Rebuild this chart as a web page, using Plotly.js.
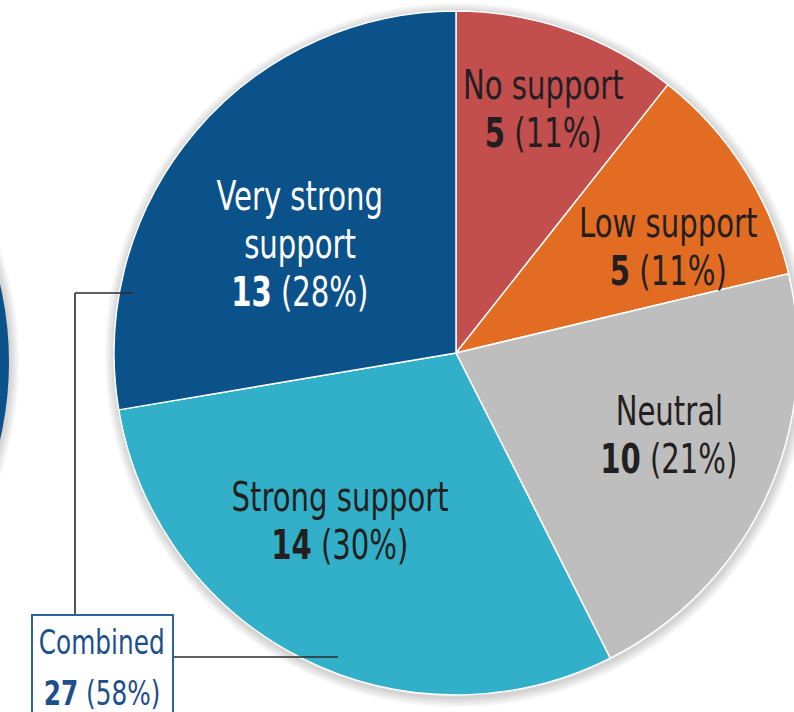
<!DOCTYPE html>
<html>
<head>
<meta charset="utf-8">
<script src="https://cdn.plot.ly/plotly-3.0.1.min.js"></script>
<style>
  html, body { margin: 0; padding: 0; overflow: hidden; background: #ffffff; width: 794px; height: 712px; }
  #chart { position: absolute; left: 0; top: 0; width: 810px; height: 712px; }
  #chart text.annotation-text { transform-box: fill-box; transform-origin: center; transform: scaleX(0.81); }
</style>
</head>
<body>
<div id="chart"></div>
<script>
// ---- data ----
const categories = ['No support', 'Low support', 'Neutral', 'Strong support', 'Very strong support'];
const counts = [5, 5, 10, 14, 13];
const percents = [11, 11, 21, 30, 28];
const labelLines = [['No support'], ['Low support'], ['Neutral'], ['Strong support'], ['Very strong', 'support']];
const combinedLabel = 'Combined';
const combinedCount = 27;
const combinedPercent = 58;

// ---- styles / layout ----
const sliceColors = ['#c24e4e', '#e36c23', '#bfbebf', '#33b0c9', '#0b528a'];
const textColors = ['#231f20', '#231f20', '#231f20', '#231f20', '#ffffff'];
const W = 810, H = 712;
const cx = 456, cy = 353, R = 342;
const px = v => v / W;
const py = v => 1 - v / H;
const FONT = 'DejaVu Sans Condensed, Liberation Sans Narrow, sans-serif';
const FS = 40;
// label anchor points (pixel), x centre and first-line cap centre
const labelPos = [[543, 85], [668, 223], [669, 411], [340, 497], [300, 196]];
const lineGap = 48;

const pie = {
  type: 'pie',
  labels: categories,
  values: counts,
  sort: false,
  direction: 'clockwise',
  rotation: 0,
  textinfo: 'none',
  hoverinfo: 'label+value+percent',
  showlegend: false,
  marker: { colors: sliceColors, line: { color: '#ffffff', width: 1.5 } },
  domain: { x: [px(cx - R), px(cx + R)], y: [py(cy + R), py(cy - R)] }
};

const annotations = [];
categories.forEach((c, i) => {
  const [x0, y0] = labelPos[i];
  const lines = labelLines[i].concat([`<b>${counts[i]}</b> (${percents[i]}%)`]);
  lines.forEach((t, k) => {
    annotations.push({
      xref: 'paper', yref: 'paper', x: px(x0), y: py(y0 + k * lineGap),
      xanchor: 'center', yanchor: 'middle', showarrow: false,
      text: t, font: { family: FONT, size: FS, color: textColors[i] }
    });
  });
});
const comboColor = '#1d4f8c';
annotations.push({
  xref: 'paper', yref: 'paper', x: px(102), y: py(642), xanchor: 'center', yanchor: 'middle',
  showarrow: false, text: combinedLabel, font: { family: FONT, size: 34, color: comboColor }
});
annotations.push({
  xref: 'paper', yref: 'paper', x: px(102), y: py(693), xanchor: 'center', yanchor: 'middle',
  showarrow: false, text: `<b>${combinedCount}</b> (${combinedPercent}%)`,
  font: { family: FONT, size: 34, color: comboColor }
});

function circle(x, y, r, fill, layer) {
  return { type: 'circle', xref: 'paper', yref: 'paper', layer: layer || 'below',
    x0: px(x - r), x1: px(x + r), y0: py(y + r), y1: py(y - r),
    fillcolor: fill, line: { width: 0 } };
}
const shapes = [];
// soft glow around the pies
[10, 8, 6, 4, 2].forEach(d => {
  shapes.push(circle(cx + 1, cy + 2, R + d, 'rgba(0,0,0,0.035)'));
  shapes.push(circle(-333, 362, R + d, 'rgba(0,0,0,0.035)'));
});
// partial neighbouring pie at the left edge
shapes.push(circle(-333, 362, R, '#0b528a'));
// connector lines
const lc = { color: '#2b2b2b', width: 1.6 };
shapes.push({ type: 'line', xref: 'paper', yref: 'paper', layer: 'above', x0: px(75), x1: px(133), y0: py(293), y1: py(293), line: lc });
shapes.push({ type: 'line', xref: 'paper', yref: 'paper', layer: 'above', x0: px(75), x1: px(75), y0: py(293), y1: py(615), line: lc });
shapes.push({ type: 'line', xref: 'paper', yref: 'paper', layer: 'above', x0: px(173), x1: px(338), y0: py(657), y1: py(657), line: lc });
// combined box
shapes.push({ type: 'rect', xref: 'paper', yref: 'paper', layer: 'above', x0: px(32), x1: px(173), y0: py(730), y1: py(615),
  fillcolor: '#ffffff', line: { color: '#2a64a0', width: 2 } });

const layout = {
  width: W, height: H,
  margin: { l: 0, r: 0, t: 0, b: 0, pad: 0 },
  paper_bgcolor: '#ffffff',
  showlegend: false,
  annotations: annotations,
  shapes: shapes
};

Plotly.newPlot('chart', [pie], layout, { displayModeBar: false, staticPlot: true });
</script>
</body>
</html>
